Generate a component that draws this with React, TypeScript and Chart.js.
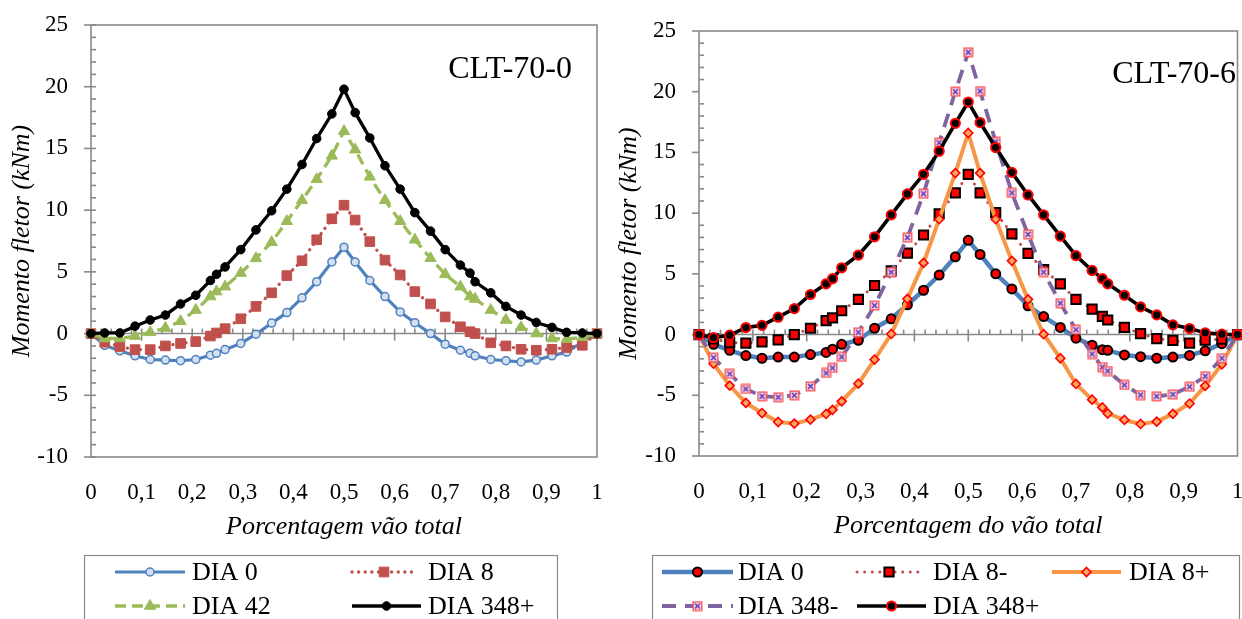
import React, { useEffect, useRef } from 'react';
import { Chart, registerables } from 'chart.js';

Chart.register(...registerables);

const SERIF = '"Liberation Serif", "Times New Roman", Times, serif';
const AXIS_GRAY = '#898989';

// ---------- data ----------
const POSITIONS = [0, 0.027, 0.057, 0.087, 0.117, 0.147, 0.177, 0.207, 0.236, 0.248, 0.265, 0.296, 0.326, 0.357, 0.387, 0.417, 0.446, 0.476, 0.5, 0.522, 0.551, 0.581, 0.611, 0.64, 0.671, 0.7, 0.73, 0.749, 0.759, 0.79, 0.82, 0.85, 0.88, 0.911, 0.94, 0.971, 1];

const Y_MIN = -10;
const Y_MAX = 25;
const Y_STEP = 5;
const X_STEP = 0.1;

const LEFT_PANEL_LABEL = 'CLT-70-0';
const RIGHT_PANEL_LABEL = 'CLT-70-6';
const Y_TITLE = 'Momento fletor (kNm)';
const LEFT_X_TITLE = 'Porcentagem vão total';
const RIGHT_X_TITLE = 'Porcentagem do vão total';

const LEFT_NAMES = ['DIA 0', 'DIA 8', 'DIA 42', 'DIA 348+'];
const RIGHT_NAMES = ['DIA 0', 'DIA 8-', 'DIA 8+', 'DIA 348-', 'DIA 348+'];

const L_DIA0 = [0, -0.95, -1.4, -1.8, -2.1, -2.15, -2.2, -2.1, -1.75, -1.6, -1.3, -0.8, -0.05, 0.85, 1.7, 2.9, 4.2, 5.8, 7.0, 5.8, 4.3, 3.0, 1.75, 0.88, 0, -0.86, -1.35, -1.6, -1.8, -2.1, -2.2, -2.3, -2.15, -1.8, -1.5, -0.7, 0];
const L_DIA8 = [0, -0.7, -1.05, -1.3, -1.3, -1.0, -0.8, -0.65, -0.2, 0.05, 0.4, 1.2, 2.2, 3.3, 4.7, 5.9, 7.6, 9.3, 10.4, 9.2, 7.45, 5.95, 4.75, 3.4, 2.4, 1.35, 0.55, 0.15, 0.0, -0.75, -1.0, -1.27, -1.35, -1.27, -1.13, -0.95, 0];
const L_DIA42 = [0, -0.4, -0.4, -0.2, 0.1, 0.45, 1.0, 1.9, 3.0, 3.4, 3.8, 4.9, 6.1, 7.4, 9.1, 10.8, 12.5, 14.4, 16.4, 14.9, 12.7, 10.8, 9.1, 7.6, 6.1, 4.8, 3.8, 3.0, 2.8, 1.9, 1.1, 0.5, 0.0, -0.4, -0.45, -0.3, 0];
const L_DIA348P = [0, 0.05, 0.05, 0.6, 1.1, 1.5, 2.4, 3.1, 4.3, 4.8, 5.4, 6.8, 8.4, 9.95, 11.7, 13.7, 15.8, 17.8, 19.8, 17.9, 15.85, 13.6, 11.7, 9.8, 8.3, 6.8, 5.55, 4.9, 4.2, 3.3, 2.2, 1.5, 0.9, 0.5, 0.1, 0.05, 0];

const R_DIA0 = [0, -0.8, -1.3, -1.73, -1.95, -1.85, -1.85, -1.65, -1.47, -1.2, -0.8, -0.47, 0.52, 1.3, 2.45, 3.65, 4.9, 6.4, 7.76, 6.6, 5.0, 3.76, 2.37, 1.48, 0.59, -0.3, -0.88, -1.24, -1.3, -1.68, -1.82, -1.95, -1.85, -1.72, -1.34, -0.75, 0];
const R_DIA8M = [0, -0.35, -0.66, -0.7, -0.6, -0.44, 0, 0.52, 1.15, 1.38, 1.96, 2.9, 4.04, 5.25, 6.7, 8.2, 9.95, 11.67, 13.2, 11.67, 10.05, 8.3, 6.68, 5.36, 4.18, 2.9, 2.1, 1.5, 1.2, 0.59, 0.08, -0.34, -0.48, -0.7, -0.46, -0.37, 0];
const R_DIA8P = [0, -2.4, -4.2, -5.63, -6.46, -7.2, -7.33, -7.0, -6.54, -6.2, -5.5, -4.04, -2.06, 0.05, 2.94, 5.9, 9.5, 13.3, 16.6, 13.3, 9.5, 6.07, 2.9, 0.03, -1.95, -4.07, -5.36, -6.0, -6.5, -7.03, -7.36, -7.17, -6.53, -5.68, -4.23, -2.45, 0];
const R_DIA348M = [0, -1.9, -3.24, -4.48, -5.08, -5.16, -5.0, -4.26, -3.16, -2.75, -1.84, 0.19, 2.39, 5.14, 7.98, 11.6, 15.8, 20.0, 23.25, 20.05, 15.87, 11.67, 8.25, 5.14, 2.58, 0.4, -1.6, -2.68, -3.0, -4.15, -4.98, -5.08, -4.92, -4.3, -3.43, -1.95, 0];
const R_DIA348P = [0, -0.25, -0.05, 0.58, 0.76, 1.43, 2.14, 3.3, 4.18, 4.6, 5.5, 6.55, 8.05, 9.86, 11.58, 13.2, 15.1, 17.4, 19.15, 17.46, 15.4, 13.36, 11.5, 9.86, 8.1, 6.5, 5.28, 4.6, 4.18, 3.24, 2.28, 1.62, 0.8, 0.5, 0.14, 0.03, 0];

// ---------- styles ----------
type Series = {
  label: string;
  values: number[];
  color: string;
  width: number;
  dash?: number[];
  cap?: CanvasLineCap;
  point: string | HTMLCanvasElement;
  radius: number;
  fill: string;
  stroke: string;
  strokeWidth: number;
};

function makeBoxCross(): HTMLCanvasElement {
  const c = document.createElement('canvas');
  c.width = 11;
  c.height = 11;
  const g = c.getContext('2d')!;
  g.fillStyle = '#EAD7EE';
  g.fillRect(1, 1, 9, 9);
  g.strokeStyle = '#FF4A4A';
  g.lineWidth = 1.3;
  g.strokeRect(1.2, 1.2, 8.6, 8.6);
  g.strokeStyle = '#6A35B0';
  g.lineWidth = 1.6;
  g.beginPath();
  g.moveTo(3, 3);
  g.lineTo(8, 8);
  g.moveTo(8, 3);
  g.lineTo(3, 8);
  g.stroke();
  return c;
}

function leftSeries(): Series[] {
  return [
    { label: LEFT_NAMES[0], values: L_DIA0, color: '#4F81BD', width: 3.2, point: 'circle', radius: 4, fill: '#D3E0F1', stroke: '#4F81BD', strokeWidth: 1.5 },
    { label: LEFT_NAMES[1], values: L_DIA8, color: '#C0504D', width: 3.3, dash: [0.1, 6.5], cap: 'round', point: 'rect', radius: 6.8, fill: '#C0504D', stroke: '#C0504D', strokeWidth: 1 },
    { label: LEFT_NAMES[2], values: L_DIA42, color: '#9BBB59', width: 3.3, dash: [11, 6], point: 'triangle', radius: 6.5, fill: '#9BBB59', stroke: '#9BBB59', strokeWidth: 1 },
    { label: LEFT_NAMES[3], values: L_DIA348P, color: '#000000', width: 3.3, point: 'circle', radius: 4.3, fill: '#000000', stroke: '#000000', strokeWidth: 1 },
  ];
}

function rightSeries(): Series[] {
  return [
    { label: RIGHT_NAMES[0], values: R_DIA0, color: '#4F81BD', width: 4.5, point: 'circle', radius: 4.5, fill: '#FF0000', stroke: '#000000', strokeWidth: 2 },
    { label: RIGHT_NAMES[1], values: R_DIA8M, color: '#C0504D', width: 3, dash: [0.1, 7.5], cap: 'round', point: 'rect', radius: 6.5, fill: '#FF0000', stroke: '#000000', strokeWidth: 2 },
    { label: RIGHT_NAMES[2], values: R_DIA8P, color: '#F79646', width: 4, point: 'rectRot', radius: 4.5, fill: '#F9A85E', stroke: '#FF0000', strokeWidth: 1.6 },
    { label: RIGHT_NAMES[3], values: R_DIA348M, color: '#8064A2', width: 3.8, dash: [14, 9], point: makeBoxCross(), radius: 5, fill: '#EAD7EE', stroke: '#FF4A4A', strokeWidth: 1 },
    { label: RIGHT_NAMES[4], values: R_DIA348P, color: '#000000', width: 3.6, point: 'circle', radius: 4.6, fill: '#000000', stroke: '#FF0000', strokeWidth: 2 },
  ];
}

type LegendItem = { idx: number; x1: number; x2: number; y: number; tx: number };
type Spec = {
  left: number;
  width: number;
  padTop: number;
  padRight: number;
  padBottom: number;
  yWidth: number;
  yTitlePad: number;
  xTitle: string;
  panelLabel: string;
  labelX: number;
  labelY: number;
  majorInside: boolean;
  legendBox: { left: number; right: number; top: number };
  legendItems: LegendItem[];
  series: () => Series[];
};

const H = 619;
const X_AXIS_HEIGHT = 87;

const LEFT_SPEC: Spec = {
  left: 0,
  width: 612,
  padTop: 25,
  padRight: 15,
  padBottom: H - 457 - X_AXIS_HEIGHT,
  yWidth: 91,
  yTitlePad: 6.4,
  xTitle: LEFT_X_TITLE,
  panelLabel: LEFT_PANEL_LABEL,
  labelX: 572,
  labelY: 78,
  majorInside: true,
  legendBox: { left: 84, right: 557, top: 555 },
  legendItems: [
    { idx: 0, x1: 115, x2: 185, y: 572, tx: 192 },
    { idx: 1, x1: 352, x2: 416, y: 572, tx: 428 },
    { idx: 2, x1: 115, x2: 185, y: 606, tx: 192 },
    { idx: 3, x1: 352, x2: 421, y: 606, tx: 428 },
  ],
  series: leftSeries,
};

const RIGHT_SPEC: Spec = {
  left: 612,
  width: 634,
  padTop: 31,
  padRight: 5,
  padBottom: H - 456 - X_AXIS_HEIGHT,
  yWidth: 87,
  yTitlePad: 1.4,
  xTitle: RIGHT_X_TITLE,
  panelLabel: RIGHT_PANEL_LABEL,
  labelX: 624,
  labelY: 83,
  majorInside: false,
  legendBox: { left: 40, right: 627, top: 555 },
  legendItems: [
    { idx: 0, x1: 50, x2: 121, y: 572, tx: 126 },
    { idx: 1, x1: 245, x2: 309, y: 572, tx: 321 },
    { idx: 2, x1: 440, x2: 509, y: 572, tx: 517 },
    { idx: 3, x1: 50, x2: 121, y: 606, tx: 126 },
    { idx: 4, x1: 245, x2: 314, y: 606, tx: 321 },
  ],
  series: rightSeries,
};

// ---------- drawing helpers ----------
function drawMarker(ctx: CanvasRenderingContext2D, s: Series, x: number, y: number) {
  ctx.save();
  ctx.setLineDash([]);
  if (typeof s.point !== 'string') {
    const img = s.point;
    ctx.drawImage(img, x - img.width / 2, y - img.height / 2);
    ctx.restore();
    return;
  }
  const r = s.radius;
  ctx.beginPath();
  if (s.point === 'circle') {
    ctx.arc(x, y, r, 0, Math.PI * 2);
  } else if (s.point === 'rect') {
    const h = Math.SQRT1_2 * r;
    ctx.rect(x - h, y - h, 2 * h, 2 * h);
  } else if (s.point === 'rectRot') {
    ctx.moveTo(x, y - r);
    ctx.lineTo(x + r, y);
    ctx.lineTo(x, y + r);
    ctx.lineTo(x - r, y);
    ctx.closePath();
  } else if (s.point === 'triangle') {
    const a = (2 * Math.PI) / 3;
    ctx.moveTo(x, y - r);
    ctx.lineTo(x + Math.sin(a) * r, y - Math.cos(a) * r);
    ctx.lineTo(x + Math.sin(2 * a) * r, y - Math.cos(2 * a) * r);
    ctx.closePath();
  }
  ctx.fillStyle = s.fill;
  ctx.fill();
  ctx.lineWidth = s.strokeWidth;
  ctx.strokeStyle = s.stroke;
  ctx.stroke();
  ctx.restore();
}

function line(ctx: CanvasRenderingContext2D, x1: number, y1: number, x2: number, y2: number) {
  ctx.beginPath();
  ctx.moveTo(x1, y1);
  ctx.lineTo(x2, y2);
  ctx.stroke();
}

function axesPlugin(spec: Spec) {
  return {
    id: 'excelAxes',
    beforeDatasetsDraw(chart: any) {
      const { ctx, chartArea: a, scales } = chart;
      const xs = scales.x;
      const ys = scales.y;
      ctx.save();
      ctx.strokeStyle = AXIS_GRAY;
      ctx.lineWidth = 1.6;
      ctx.strokeRect(a.left, a.top, a.right - a.left, a.bottom - a.top);
      for (let v = Y_MIN; v <= Y_MAX; v += 1) {
        const py = ys.getPixelForValue(v);
        if (v % Y_STEP === 0) {
          line(ctx, a.left - 7, py, a.left + (spec.majorInside ? 5 : 0), py);
        } else {
          line(ctx, a.left, py, a.left + 5, py);
        }
      }
      const y0 = ys.getPixelForValue(0);
      line(ctx, a.left, y0, a.right, y0);
      for (let i = 0; i <= 50; i++) {
        const px = xs.getPixelForValue(i / 50);
        if (i % 5 === 0) line(ctx, px, y0 - 5, px, y0 + 7);
        else line(ctx, px, y0 - 5, px, y0);
      }
      ctx.restore();
    },
  };
}

function overlayPlugin(spec: Spec, series: Series[]) {
  return {
    id: 'excelOverlay',
    afterDraw(chart: any) {
      const ctx: CanvasRenderingContext2D = chart.ctx;
      ctx.save();
      ctx.fillStyle = '#000';
      ctx.font = `32px ${SERIF}`;
      ctx.textAlign = 'right';
      ctx.textBaseline = 'alphabetic';
      ctx.fillText(spec.panelLabel, spec.labelX, spec.labelY);
      const b = spec.legendBox;
      ctx.strokeStyle = AXIS_GRAY;
      ctx.lineWidth = 1.2;
      ctx.strokeRect(b.left + 0.5, b.top + 0.5, b.right - b.left, H + 20 - b.top);
      for (const it of spec.legendItems) {
        const s = series[it.idx];
        ctx.save();
        ctx.strokeStyle = s.color;
        ctx.lineWidth = s.width;
        ctx.lineCap = s.cap || 'butt';
        ctx.setLineDash(s.dash || []);
        line(ctx, it.x1, it.y, it.x2, it.y);
        ctx.restore();
        drawMarker(ctx, s, (it.x1 + it.x2) / 2, it.y);
        ctx.fillStyle = '#000';
        ctx.font = `26px ${SERIF}`;
        ctx.textAlign = 'left';
        ctx.textBaseline = 'middle';
        ctx.fillText(s.label, it.tx, it.y + 1);
      }
      ctx.restore();
    },
  };
}

function fmtX(v: number): string {
  const r = Math.round(v * 10) / 10;
  return String(r).replace('.', ',');
}

function buildConfig(spec: Spec): any {
  const series = spec.series();
  const n = series.length;
  return {
    type: 'line',
    data: {
      datasets: series.map((s, i) => ({
        label: s.label,
        data: POSITIONS.map((p, k) => ({ x: p, y: s.values[k] })),
        borderColor: s.color,
        borderWidth: s.width,
        borderDash: s.dash || [],
        borderCapStyle: s.cap || 'butt',
        borderJoinStyle: 'round',
        pointStyle: s.point,
        pointRadius: s.radius,
        pointHoverRadius: s.radius,
        pointBackgroundColor: s.fill,
        pointBorderColor: s.stroke,
        pointBorderWidth: s.strokeWidth,
        tension: 0,
        fill: false,
        clip: false,
        order: n - i,
      })),
    },
    options: {
      responsive: false,
      maintainAspectRatio: false,
      animation: false,
      events: [],
      layout: { padding: { left: 0, top: spec.padTop, right: spec.padRight, bottom: spec.padBottom } },
      plugins: { legend: { display: false }, tooltip: { enabled: false }, title: { display: false } },
      scales: {
        x: {
          type: 'linear',
          min: 0,
          max: 1,
          grid: { display: false, drawTicks: false },
          border: { display: false },
          afterFit: (s: any) => {
            s.height = X_AXIS_HEIGHT;
            s.paddingLeft = 0;
            s.paddingRight = 0;
          },
          ticks: {
            stepSize: X_STEP,
            autoSkip: false,
            maxRotation: 0,
            minRotation: 0,
            padding: 22,
            color: '#000',
            font: { family: SERIF, size: 23 },
            callback: (v: number) => fmtX(v),
          },
          title: {
            display: true,
            text: spec.xTitle,
            color: '#000',
            font: { family: SERIF, size: 26, style: 'italic' },
            padding: { top: 0, bottom: 1.4 },
          },
        },
        y: {
          type: 'linear',
          min: Y_MIN,
          max: Y_MAX,
          grid: { display: false, drawTicks: false },
          border: { display: false },
          afterFit: (s: any) => {
            s.width = spec.yWidth;
            s.paddingTop = 0;
            s.paddingBottom = 0;
          },
          ticks: {
            stepSize: Y_STEP,
            padding: 23,
            color: '#000',
            font: { family: SERIF, size: 23 },
            callback: (v: number) => String(v),
          },
          title: {
            display: true,
            text: Y_TITLE,
            color: '#000',
            font: { family: SERIF, size: 26, style: 'italic' },
            padding: { top: spec.yTitlePad, bottom: 0 },
          },
        },
      },
    },
    plugins: [axesPlugin(spec), overlayPlugin(spec, series)],
  };
}

function MomentChart({ spec }: { spec: Spec }) {
  const ref = useRef<HTMLCanvasElement | null>(null);
  useEffect(() => {
    if (!ref.current) return;
    const chart = new Chart(ref.current, buildConfig(spec));
    return () => chart.destroy();
  }, [spec]);
  return (
    <canvas
      ref={ref}
      width={spec.width}
      height={H}
      style={{ position: 'absolute', left: spec.left, top: 0, width: spec.width, height: H, display: 'block' }}
    />
  );
}

export default function App() {
  return (
    <div style={{ position: 'fixed', left: 0, top: 0, width: 1242, height: H, background: '#fff', overflow: 'hidden' }}>
      <MomentChart spec={LEFT_SPEC} />
      <MomentChart spec={RIGHT_SPEC} />
    </div>
  );
}
